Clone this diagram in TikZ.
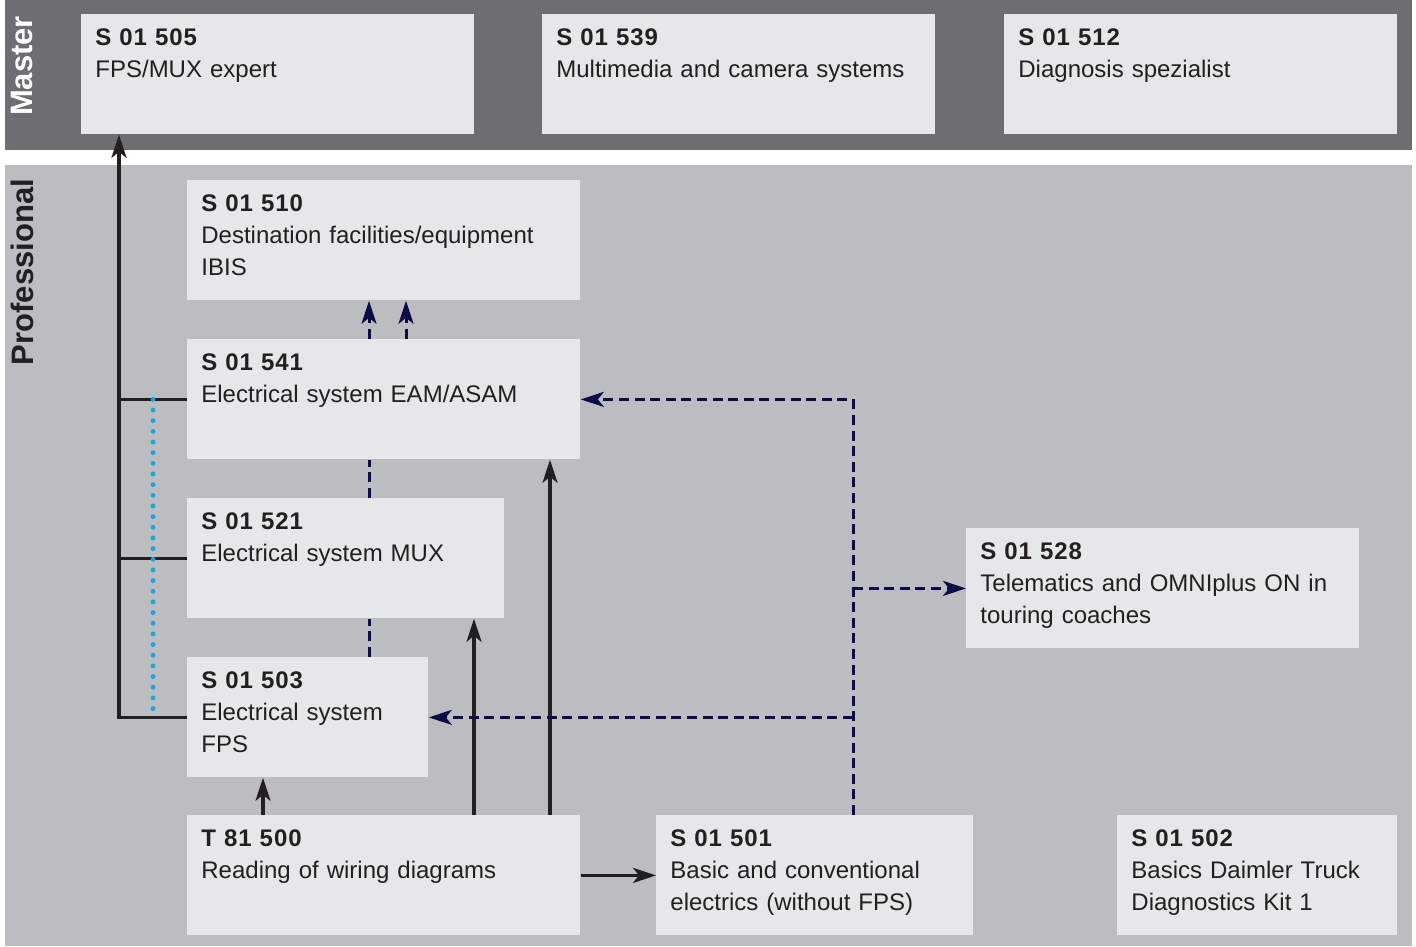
\documentclass[tikz,border=0pt]{standalone}
\usepackage{fontspec}
\setmainfont{Liberation Sans}
\usetikzlibrary{arrows.meta}

\definecolor{masterbg}{HTML}{6D6E72}
\definecolor{profbg}{HTML}{BCBDC1}
\definecolor{boxbg}{HTML}{E6E7E9}
\definecolor{ink}{HTML}{231F20}
\definecolor{navy}{HTML}{0B0B45}
\definecolor{dotblue}{HTML}{1AA3E8}

\newcommand{\code}[1]{{\bfseries\addfontfeature{LetterSpace=4}#1}}

\begin{document}
\begin{tikzpicture}[x=0.5pt,y=-0.5pt]
		% Styles for the course boxes and the connectors
		\tikzset{course/.style={fill=boxbg, text=ink, anchor=north west, align=left, inner xsep=7pt, inner ysep=0pt, text height=15.5pt, text depth=44.5pt, font=\fontsize{12}{16}\selectfont},
			coursewide/.style={course, text width=182.5pt},
			coursemid/.style={course, text width=144.5pt},
			coursekit/.style={course, text width=126pt},
			coursesmall/.style={course, text width=106.5pt},
			band/.style={rotate=90, font=\fontsize{15.5}{18}\selectfont\bfseries},
			link/.style={draw=ink, line width=1.6pt},
			linkarrow/.style={link, -{Stealth[length=11.5pt,width=7.5pt,inset=3pt]}},
			dashlink/.style={draw=navy, line width=1.5pt, dash pattern=on 5pt off 2.8pt},
			dasharrow/.style={dashlink, -{Stealth[length=11.5pt,width=7.5pt,inset=3pt]}},
			dotlink/.style={draw=dotblue, line width=2.4pt, line cap=round, dash pattern=on 0pt off 5.33pt}}
		
		\useasboundingbox (0,0) rectangle (1416,946);
		
		% Background bands
		\fill[masterbg] (5,0) rectangle (1412,150);
		\fill[profbg] (5,165) rectangle (1412,946);
		\node[band, text=white] (master) at (22,66) {Master};
		\node[band, text=ink] (professional) at (22,272) {Professional};
		
		% Master courses
		\node[coursewide] (s505) at (81,14) {\code{S 01 505}\\FPS/MUX expert};
		\node[coursewide] (s539) at (542,14) {\code{S 01 539}\\Multimedia and camera systems};
		\node[coursewide] (s512) at (1004,14) {\code{S 01 512}\\Diagnosis spezialist};
		
		% Professional courses
		\node[coursewide] (s510) at (187,180) {\code{S 01 510}\\Destination facilities/equipment\\IBIS};
		\node[coursewide] (s541) at (187,339) {\code{S 01 541}\\Electrical system EAM/ASAM};
		\node[coursemid] (s521) at (187,498) {\code{S 01 521}\\Electrical system MUX};
		\node[coursesmall] (s503) at (187,657) {\code{S 01 503}\\Electrical system\\FPS};
		\node[coursewide] (t500) at (187,815) {\code{T 81 500}\\Reading of wiring diagrams};
		\node[coursemid] (s501) at (656,815) {\code{S 01 501}\\Basic and conventional\\electrics (without FPS)};
		\node[coursekit] (s502) at (1117,815) {\code{S 01 502}\\Basics Daimler Truck\\Diagnostics Kit 1};
		\node[coursewide] (s528) at (966,528) {\code{S 01 528}\\Telematics and OMNIplus ON in\\touring coaches};
		
		% Helper columns for the vertical runs
		\coordinate (trunk) at (119,0);
		\coordinate (dots) at (153,0);
		\coordinate (dx1) at (369,0);
		\coordinate (dx2) at (406,0);
		\coordinate (up1) at (263,0);
		\coordinate (up2) at (474,0);
		\coordinate (up3) at (550,0);
		\coordinate (feed) at (853,0);
		
		% Path to the master course
		\draw[link] (s541.west) -- (trunk |- s541.west);
		\draw[link] (s521.west) -- (trunk |- s521.west);
		\draw[linkarrow] (s503.west) -- (trunk |- s503.west) -- (trunk |- s505.south);
		\draw[dotlink] (dots |- s541.west) -- (dots |- s503.west);
		
		% Dashed links between the electrical system courses
		\draw[dashlink] (dx1 |- s503.north) -- (dx1 |- s521.south);
		\draw[dashlink] (dx1 |- s521.north) -- (dx1 |- s541.south);
		\draw[dasharrow] (dx1 |- s541.north) -- (dx1 |- s510.south);
		\draw[dasharrow] (dx2 |- s541.north) -- (dx2 |- s510.south);
		
		% Links out of the wiring diagram course
		\draw[linkarrow] (up1 |- t500.north) -- (up1 |- s503.south);
		\draw[linkarrow] (up2 |- t500.north) -- (up2 |- s521.south);
		\draw[linkarrow] (up3 |- t500.north) -- (up3 |- s541.south);
		\draw[linkarrow] (t500.east) -- (s501.west);
		
		% Dashed links out of the basic electrics course
		\draw[dasharrow] (feed |- s501.north) -- (feed |- s541.east) -- (s541.east);
		\draw[dasharrow] (feed |- s528.west) -- (s528.west);
		\draw[dasharrow] (feed |- s503.east) -- (s503.east);
	\end{tikzpicture}
\end{document}
